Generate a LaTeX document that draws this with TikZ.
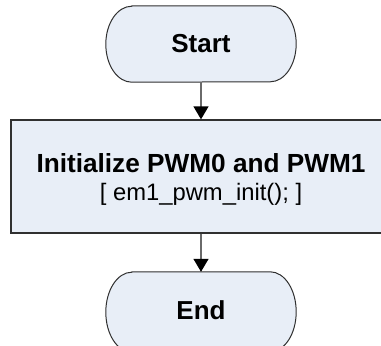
\documentclass[tikz,border=0pt]{standalone}
\usepackage{fontspec}
\setmainfont{Liberation Sans}
\usetikzlibrary{arrows.meta}
\definecolor{boxfill}{HTML}{E8EEF7}
\definecolor{boxline}{HTML}{303030}
\definecolor{conn}{HTML}{6A6A6A}
\tikzset{
  termshape/.style={rectangle, draw=none, inner sep=0pt, minimum width=190pt, minimum height=76pt,
    font=\fontsize{26}{28}\selectfont\bfseries},
  termline/.style={draw=boxline, line width=1pt, fill=boxfill},
  procbox/.style={rectangle, draw=boxline, line width=1.3pt, fill=boxfill, inner sep=0pt,
    minimum width=380pt, minimum height=113pt},
  titletext/.style={anchor=base, inner sep=0pt, font=\fontsize{26.2}{28}\selectfont\bfseries},
  codetext/.style={anchor=base, inner sep=0pt, font=\fontsize{23.8}{26}\selectfont},
  conn/.style={draw=conn, line width=1.3pt, -{Triangle[width=15pt,length=13pt,color=black]}}
}
% #1 node name, #2 vertical corner radius
\newcommand{\termoutline}[2]{%
  \path[termline] ([xshift=26pt]#1.north west) -- ([xshift=-26pt]#1.north east)
    arc[start angle=90, end angle=-90, x radius=26pt, y radius=#2]
    -- ([xshift=26pt]#1.south west)
    arc[start angle=270, end angle=90, x radius=26pt, y radius=#2] -- cycle;}
\begin{document}
\begin{tikzpicture}[x=1pt, y=-1pt]
  \useasboundingbox (0,0) rectangle (381,346);
  \clip (0,0) rectangle (381,346);
  % Start terminator
  \node[termshape] (start) at (201,44) {};
  \termoutline{start}{38pt}
  \node[termshape] (starttext) at (201,44) {Start};
  % Process box
  \node[procbox] (box) at (201,176.5) {};
  \node[titletext] (boxtitle) at (201,172.7) {Initialize PWM0 and PWM1};
  \node[codetext] (boxcode) at (201,200) {[ em1\_pwm\_init(); ]};
  % End terminator
  \node[termshape, minimum height=80pt] (end) at (201,312) {};
  \termoutline{end}{40pt}
  \node[termshape] (endtext) at (201,310) {End};
  % Connectors
  \draw[conn] (start.south) -- (box.north);
  \draw[conn] (box.south) -- (end.north);
\end{tikzpicture}
\end{document}
